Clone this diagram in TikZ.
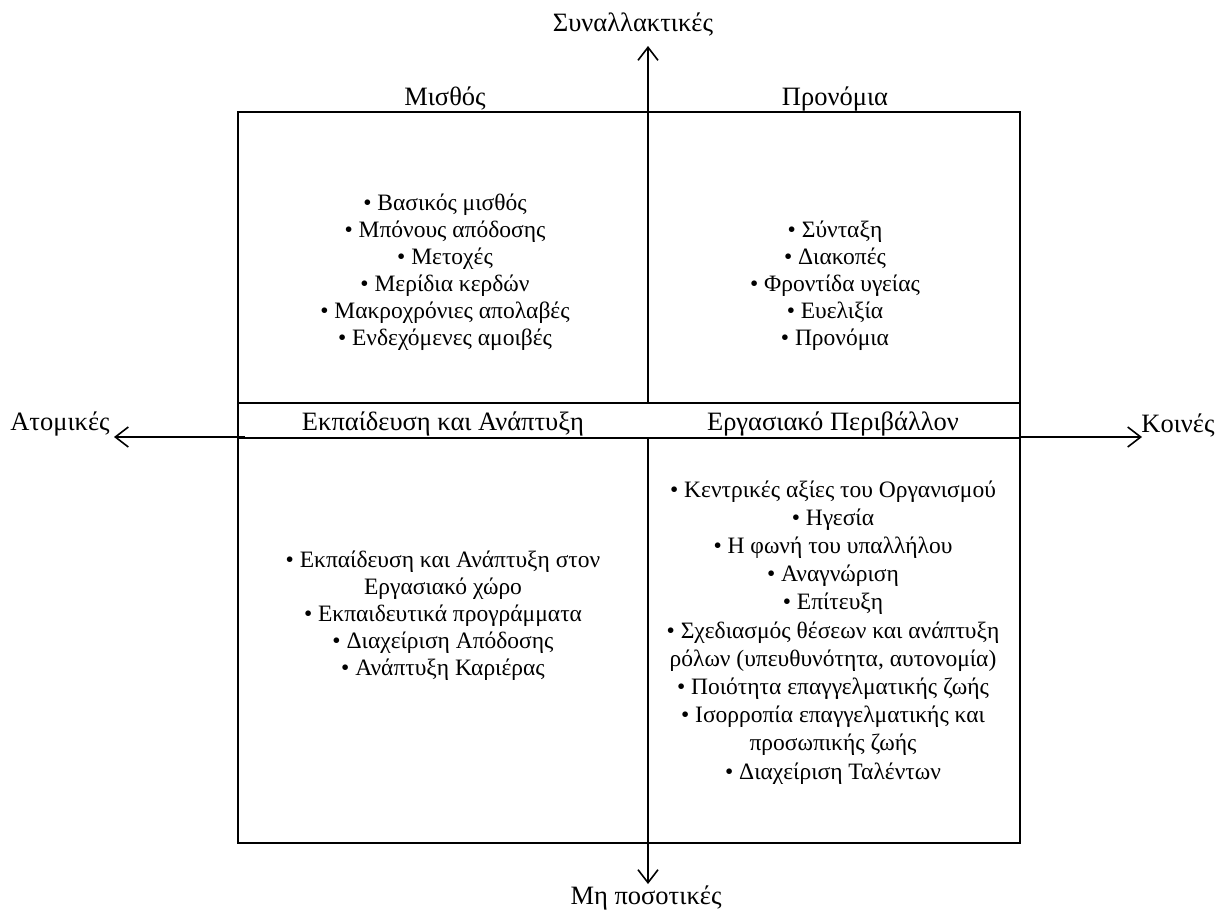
\documentclass[tikz,border=0pt]{standalone}
\usepackage{fontspec}
\setmainfont{Liberation Serif}
\usetikzlibrary{arrows.meta}
\begin{document}
\begin{tikzpicture}[x=1pt,y=-1pt,
  line/.style={line width=1.6pt,line cap=rect},
  axis/.style={line width=1.6pt,-{Straight Barb[length=13pt,width=20pt,line width=1.6pt]}},
  lbl/.style={font=\fontsize{26.5}{30}\selectfont,inner sep=0pt,anchor=base},
  list/.style={font=\fontsize{23.5}{27}\selectfont,inner sep=0pt,align=center,anchor=base}
]
\useasboundingbox (0,0) rectangle (1217,913);
% box
\coordinate (tl) at (238,112);
\coordinate (br) at (1020,843);
\draw[line] (tl) rectangle (br);
\coordinate (bandL1) at (238,403);
\coordinate (bandR1) at (1020,403);
\draw[line] (bandL1) -- (bandR1);
% axes
\coordinate (cUp) at (648,403);
\coordinate (tipUp) at (648,46);
\draw[axis] (cUp) -- (tipUp);
\coordinate (cDown) at (648,438);
\coordinate (tipDown) at (648,884);
\draw[axis] (cDown) -- (tipDown);
\coordinate (cLeft) at (245,437);
\coordinate (tipLeft) at (114,437);
\draw[axis] (cLeft) -- (tipLeft);
\coordinate (cRight) at (1020,437);
\coordinate (tipRight) at (1142,437);
\draw[axis] (cRight) -- (tipRight);
\coordinate (bandL2) at (238,438);
\coordinate (bandR2) at (1020,438);
\draw[line] (bandL2) -- (bandR2);
% axis labels
\node[lbl] (up) at (633,31) {Συναλλακτικές};
\node[lbl] (down) at (646,904) {Μη ποσοτικές};
\node[lbl] (left) at (60,430) {Ατομικές};
\node[lbl] (right) at (1178,432) {Κοινές};
% quadrant titles
\node[lbl] (t1) at (445,105) {Μισθός};
\node[lbl] (t2) at (835,105) {Προνόμια};
\node[lbl] (t3) at (443,430) {Εκπαίδευση και Ανάπτυξη};
\node[lbl] (t4) at (833,430) {Εργασιακό Περιβάλλον};
% lists (base anchor = last line baseline)
\node[list] (l1) at (445,345) {• Βασικός μισθός\\• Μπόνους απόδοσης\\• Μετοχές\\• Μερίδια κερδών\\• Μακροχρόνιες απολαβές\\• Ενδεχόμενες αμοιβές};
\node[list] (l2) at (835,345) {• Σύνταξη\\• Διακοπές\\• Φροντίδα υγείας\\• Ευελιξία\\• Προνόμια};
\node[list] (l3) at (443,675) {• Εκπαίδευση και Ανάπτυξη στον\\Εργασιακό χώρο\\• Εκπαιδευτικά προγράμματα\\• Διαχείριση Απόδοσης\\• Ανάπτυξη Καριέρας};
\node[list,font=\fontsize{23.5}{28.2}\selectfont] (l4) at (833,779) {• Κεντρικές αξίες του Οργανισμού\\• Ηγεσία\\• Η φωνή του υπαλλήλου\\• Αναγνώριση\\• Επίτευξη\\• Σχεδιασμός θέσεων και ανάπτυξη\\ρόλων (υπευθυνότητα, αυτονομία)\\• Ποιότητα επαγγελματικής ζωής\\• Ισορροπία επαγγελματικής και\\προσωπικής ζωής\\• Διαχείριση Ταλέντων};
\end{tikzpicture}
\end{document}
